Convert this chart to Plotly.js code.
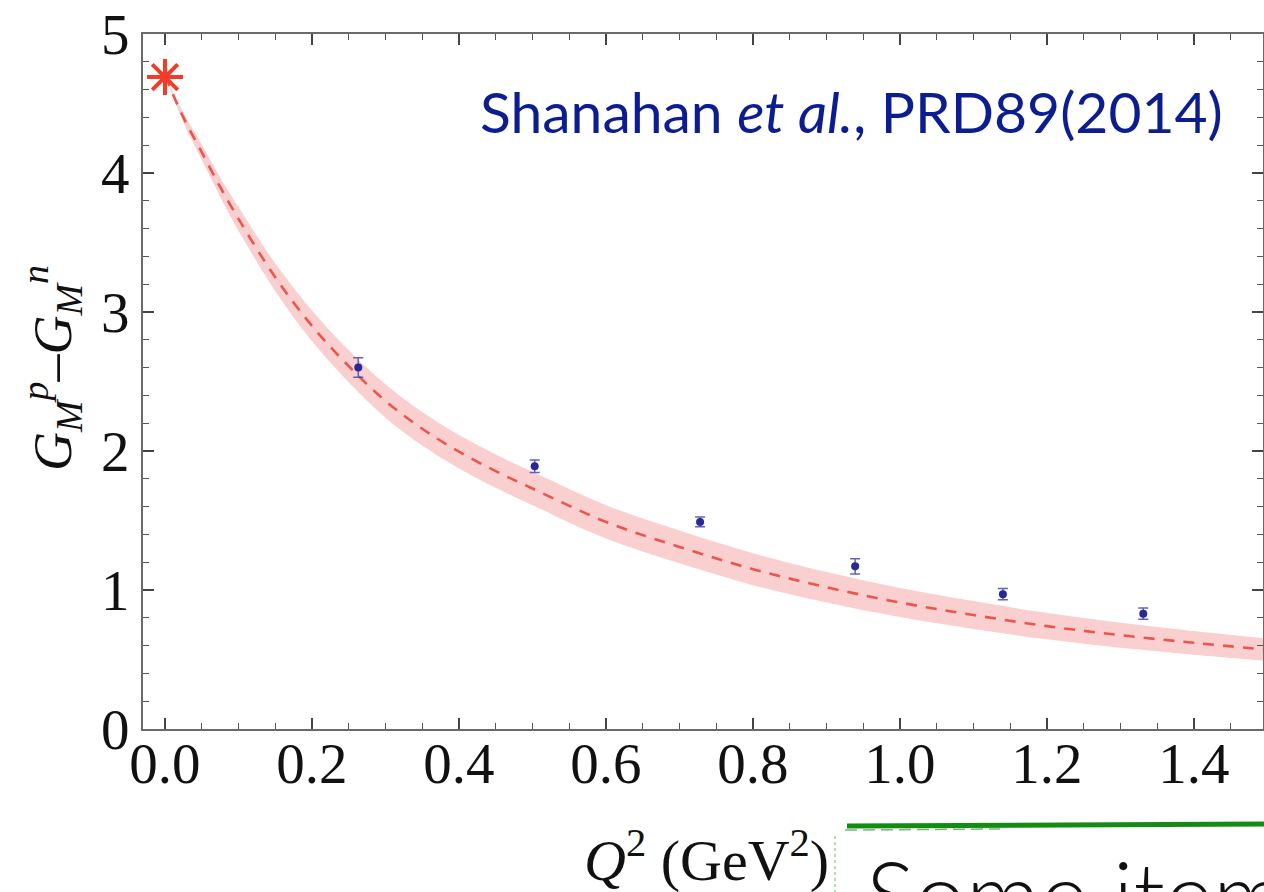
<!DOCTYPE html>
<html>
<head>
<meta charset="utf-8">
<script src="https://cdn.plot.ly/plotly-3.0.1.min.js"></script>
<style>
  html, body { margin: 0; padding: 0; background: #ffffff; }
  #chart { width: 1264px; height: 892px; }
</style>
</head>
<body>
<div id="chart"></div>
<script>
// Lattice data points (Q^2 in GeV^2, G_M^p - G_M^n, error)
const latticeQ2 = [0.263, 0.503, 0.728, 0.939, 1.140, 1.331];
const latticeG = [2.60, 1.89, 1.49, 1.17, 0.97, 0.83];
const latticeErr = [0.07, 0.045, 0.035, 0.055, 0.04, 0.04];

// Physical point at Q^2 = 0
const physQ2 = [0.0];
const physG = [4.69];

// Fit curve (central, dashed) and uncertainty band
const fitQ2 = [0, 0.025, 0.05, 0.075, 0.1, 0.15, 0.2, 0.25, 0.3, 0.35, 0.4, 0.45, 0.5, 0.6, 0.7, 0.8, 0.9, 1.0, 1.1, 1.2, 1.3, 1.4, 1.5];
const fitCentral = [4.70, 4.40, 4.15, 3.90, 3.67, 3.25, 2.90, 2.61, 2.36, 2.16, 1.995, 1.855, 1.73, 1.49, 1.31, 1.15, 1.02, 0.91, 0.82, 0.74, 0.675, 0.62, 0.57];
const fitUpper = [4.70, 4.435, 4.205, 3.97, 3.755, 3.35, 3.01, 2.725, 2.48, 2.28, 2.115, 1.975, 1.85, 1.61, 1.428, 1.265, 1.13, 1.015, 0.92, 0.835, 0.765, 0.705, 0.65];
const fitLower = [4.70, 4.365, 4.095, 3.83, 3.585, 3.15, 2.79, 2.495, 2.24, 2.04, 1.875, 1.735, 1.61, 1.37, 1.192, 1.035, 0.91, 0.805, 0.72, 0.645, 0.585, 0.535, 0.49];

// Tick labels
const xTickVals = [0.0, 0.2, 0.4, 0.6, 0.8, 1.0, 1.2, 1.4];
const xTickText = ["0.0", "0.2", "0.4", "0.6", "0.8", "1.0", "1.2", "1.4"];
const yTickVals = [0, 1, 2, 3, 4, 5];
const yTickText = ["0", "1", "2", "3", "4", "5"];

const serif = "Liberation Serif, Times New Roman, serif";

const traces = [
  { x: fitQ2, y: fitLower, mode: 'lines', line: { width: 0, color: 'rgba(0,0,0,0)', shape: 'spline' },
    hoverinfo: 'skip', showlegend: false },
  { x: fitQ2, y: fitUpper, mode: 'lines', line: { width: 0, color: 'rgba(0,0,0,0)', shape: 'spline' },
    fill: 'tonexty', fillcolor: 'rgba(240,140,140,0.42)', hoverinfo: 'skip', showlegend: false },
  { x: fitQ2, y: fitCentral, mode: 'lines',
    line: { color: 'rgb(236,86,74)', width: 2.6, dash: '11px,9px', shape: 'spline' }, showlegend: false },
  { x: latticeQ2, y: latticeG, mode: 'markers',
    marker: { color: 'rgb(40,40,150)', size: 8, symbol: 'circle' },
    error_y: { type: 'data', array: latticeErr, visible: true, color: 'rgba(70,70,175,0.85)', thickness: 1.5, width: 5 },
    showlegend: false, cliponaxis: false },
  { x: physQ2, y: physG, mode: 'markers',
    marker: { symbol: 'asterisk-open', size: 30, line: { color: 'rgb(240,60,40)', width: 4 }, color: 'rgb(240,60,40)' },
    showlegend: false, cliponaxis: false }
];

const axisCommon = {
  showline: true, linecolor: '#6a6a6a', linewidth: 2, mirror: 'allticks',
  ticks: 'inside', ticklen: 11, tickwidth: 1.5, tickcolor: '#444',
  showgrid: false, zeroline: false,
  tickfont: { family: serif, size: 57, color: '#111' },
};

const layout = {
  width: 1264, height: 892,
  margin: { l: 143, r: 1, t: 34, b: 163, pad: 0 },
  paper_bgcolor: '#ffffff', plot_bgcolor: '#ffffff',
  showlegend: false,
  xaxis: Object.assign({}, axisCommon, {
    range: [-0.0299, 1.4939], tickmode: 'array', tickvals: xTickVals, ticktext: xTickText,
    minor: { dtick: 0.05, ticks: 'inside', ticklen: 6, tickwidth: 1.2, tickcolor: '#555', showgrid: false },
    ticklabelstandoff: -16
  }),
  yaxis: Object.assign({}, axisCommon, {
    range: [0, 5], tickmode: 'array', tickvals: yTickVals, ticktext: yTickText,
    minor: { dtick: 0.2, ticks: 'inside', ticklen: 6, tickwidth: 1.2, tickcolor: '#555', showgrid: false },
    ticklabelstandoff: 0
  }),
  annotations: [
    { xref: 'paper', yref: 'paper', x: (1225 - 143) / 1120, y: (729 - 111) / 695,
      xanchor: 'right', yanchor: 'middle', showarrow: false,
      text: 'Shanahan <i>et al.</i>, PRD89(2014)',
      font: { family: 'Lato, Open Sans, sans-serif', size: 57, color: 'rgb(12,28,145)' } },
    { xref: 'paper', yref: 'paper', x: (52 - 143) / 1120, y: (729 - 368) / 695,
      xanchor: 'center', yanchor: 'middle', showarrow: false, textangle: -90,
      text: '<i>G</i><sub><i>M</i></sub><sup><i>p</i></sup>–<i>G</i><sub><i>M</i></sub><sup><i>n</i></sup>',
      font: { family: serif, size: 54, color: '#111' } },
    { xref: 'paper', yref: 'paper', x: (706 - 143) / 1120, y: (729 - 856) / 695,
      xanchor: 'center', yanchor: 'middle', showarrow: false,
      text: '<i>Q</i><sup>2</sup> (GeV<sup>2</sup>)',
      font: { family: serif, size: 58, color: '#111' } },
    { xref: 'paper', yref: 'paper', x: (864 - 143) / 1120, y: (729 - 836) / 695,
      xanchor: 'left', yanchor: 'top', showarrow: false,
      text: 'Some item',
      font: { family: 'Lato, Open Sans, sans-serif', size: 92, color: '#111', weight: 300 } }
  ],
  shapes: [
    { type: 'line', xref: 'paper', yref: 'paper',
      x0: (847 - 143) / 1120, y0: (729 - 826) / 695, x1: (1264 - 143) / 1120, y1: (729 - 824) / 695,
      line: { color: 'rgb(20,140,20)', width: 5 } },
    { type: 'line', xref: 'paper', yref: 'paper',
      x0: (845 - 143) / 1120, y0: (729 - 830) / 695, x1: (1000 - 143) / 1120, y1: (729 - 829) / 695,
      line: { color: 'rgba(20,140,20,0.6)', width: 1.5, dash: '12px,6px' } },
    { type: 'line', xref: 'paper', yref: 'paper',
      x0: (835 - 143) / 1120, y0: (729 - 836) / 695, x1: (835 - 143) / 1120, y1: (729 - 892) / 695,
      line: { color: 'rgba(40,160,40,0.7)', width: 1, dash: '3px,3px' } }
  ]
};

Plotly.newPlot('chart', traces, layout, { staticPlot: true, displayModeBar: false });
</script>
</body>
</html>
